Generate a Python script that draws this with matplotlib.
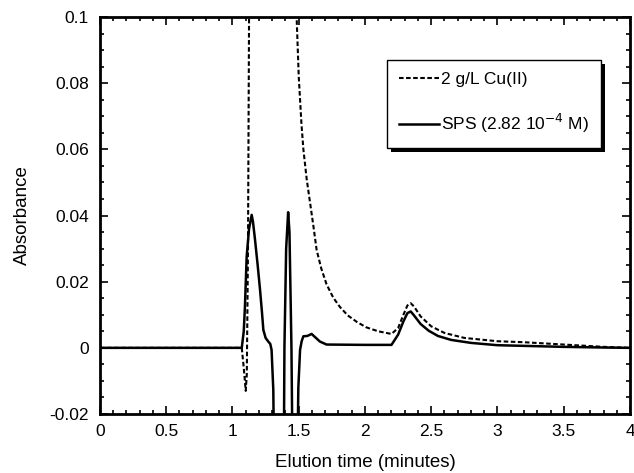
import matplotlib
matplotlib.use("Agg")
import matplotlib.pyplot as plt
from matplotlib.ticker import MultipleLocator
import matplotlib.patheffects as pe

plt.rcParams['font.family'] = ['Liberation Sans', 'DejaVu Sans']

# Solid: SPS (2.82 10^-4 M)
sps_t = [0, 1.07, 1.085, 1.094, 1.107, 1.125, 1.145, 1.155, 1.17, 1.19, 1.208, 1.222, 1.233, 1.25, 1.27,
         1.285, 1.295, 1.308, 1.318,
         1.385, 1.392, 1.405, 1.42, 1.43, 1.445, 1.457, 1.484, 1.497, 1.51, 1.522, 1.535, 1.565, 1.597,
         1.63, 1.66, 1.71, 2.0, 2.2, 2.25, 2.29, 2.32, 2.345, 2.37, 2.42, 2.48, 2.55, 2.65, 2.8, 3.0,
         3.2, 3.5, 3.8, 4.0]
sps_y = [0, 0, 0.005, 0.0125, 0.0276, 0.036, 0.0402, 0.038, 0.0327, 0.025, 0.0175, 0.011, 0.0054, 0.003, 0.0019,
         0.0012, -0.0006, -0.0127, -0.05,
         -0.05, 0.0, 0.03, 0.041, 0.035, 0.0, -0.05, -0.05, -0.012, -0.0006, 0.002, 0.0035, 0.0036, 0.0042,
         0.003, 0.0019, 0.001, 0.0009, 0.0009, 0.004, 0.008, 0.0105, 0.011, 0.0098, 0.0072, 0.0052, 0.0036, 0.0024, 0.0015, 0.0008,
         0.0006, 0.0003, 0.0001, 0.0]

# Dashed: 2 g/L Cu(II)
cu_t = [0, 1.07, 1.085, 1.10, 1.108, 1.117, 1.125, 1.14, 1.46, 1.484, 1.50, 1.52, 1.535, 1.56, 1.585,
        1.61, 1.635, 1.67, 1.71, 1.76, 1.81, 1.87, 1.94, 2.01, 2.1, 2.2, 2.25, 2.29, 2.32, 2.345,
        2.37, 2.42, 2.5, 2.6, 2.75, 3.0, 3.2, 3.5, 3.8, 4.0]
cu_y = [0, 0, -0.006, -0.013, -0.008, 0.03, 0.1, 0.3, 0.3, 0.1, 0.082, 0.068, 0.060, 0.051, 0.044,
        0.037, 0.0296, 0.024, 0.0192, 0.0152, 0.0124, 0.0098, 0.0078, 0.0062, 0.005, 0.0042, 0.006, 0.010, 0.0128, 0.0135,
        0.0125, 0.0095, 0.0065, 0.0045, 0.003, 0.002, 0.0017, 0.001, 0.0003, 0.0]

xticks = [0, 0.5, 1, 1.5, 2, 2.5, 3, 3.5, 4]
xticklabels = ['0', '0.5', '1', '1.5', '2', '2.5', '3', '3.5', '4']
yticks = [-0.02, 0, 0.02, 0.04, 0.06, 0.08, 0.1]
yticklabels = ['-0.02', '0', '0.02', '0.04', '0.06', '0.08', '0.1']

fig = plt.figure(figsize=(6.34, 4.73), dpi=100)
ax = fig.add_axes([0.1577, 0.1247, 0.836, 0.8393])

ax.plot(cu_t, cu_y, color='black', lw=1.5, ls=(0, (2.2, 1.2)), label='2 g/L Cu(II)')
ax.plot(sps_t, sps_y, color='black', lw=1.8, label='SPS (2.82 10$^{-4}$ M)')

ax.set_xlim(0, 4)
ax.set_ylim(-0.02, 0.1)
ax.set_xticks(xticks)
ax.set_xticklabels(xticklabels)
ax.set_yticks(yticks)
ax.set_yticklabels(yticklabels)
ax.xaxis.set_minor_locator(MultipleLocator(0.1))
ax.yaxis.set_minor_locator(MultipleLocator(0.005))
ax.tick_params(which='both', direction='in', top=True, right=True, labelsize=12.5, width=1.2)
ax.tick_params(which='major', length=6)
ax.tick_params(which='minor', length=3)
ax.tick_params(axis='x', pad=7)
ax.tick_params(axis='y', pad=8)
for s in ax.spines.values():
    s.set_linewidth(2.0)

ax.set_xlabel('Elution time (minutes)', fontsize=13.5, labelpad=11)
ax.set_ylabel('Absorbance', fontsize=13.5, labelpad=13)

leg = ax.legend(loc='upper right', bbox_to_anchor=(0.945, 0.892), frameon=True, fancybox=False,
                shadow=False, edgecolor='black', fontsize=12.5, framealpha=1,
                handlelength=2.3, handletextpad=0.1, labelspacing=1.45, borderpad=0.7,
                borderaxespad=0)
frame = leg.get_frame()
frame.set_linewidth(1.0)
frame.set_path_effects([pe.SimplePatchShadow(offset=(3, -3), shadow_rgbFace='black', alpha=1.0),
                        pe.Normal()])

fig.savefig('out.png', dpi=100)
